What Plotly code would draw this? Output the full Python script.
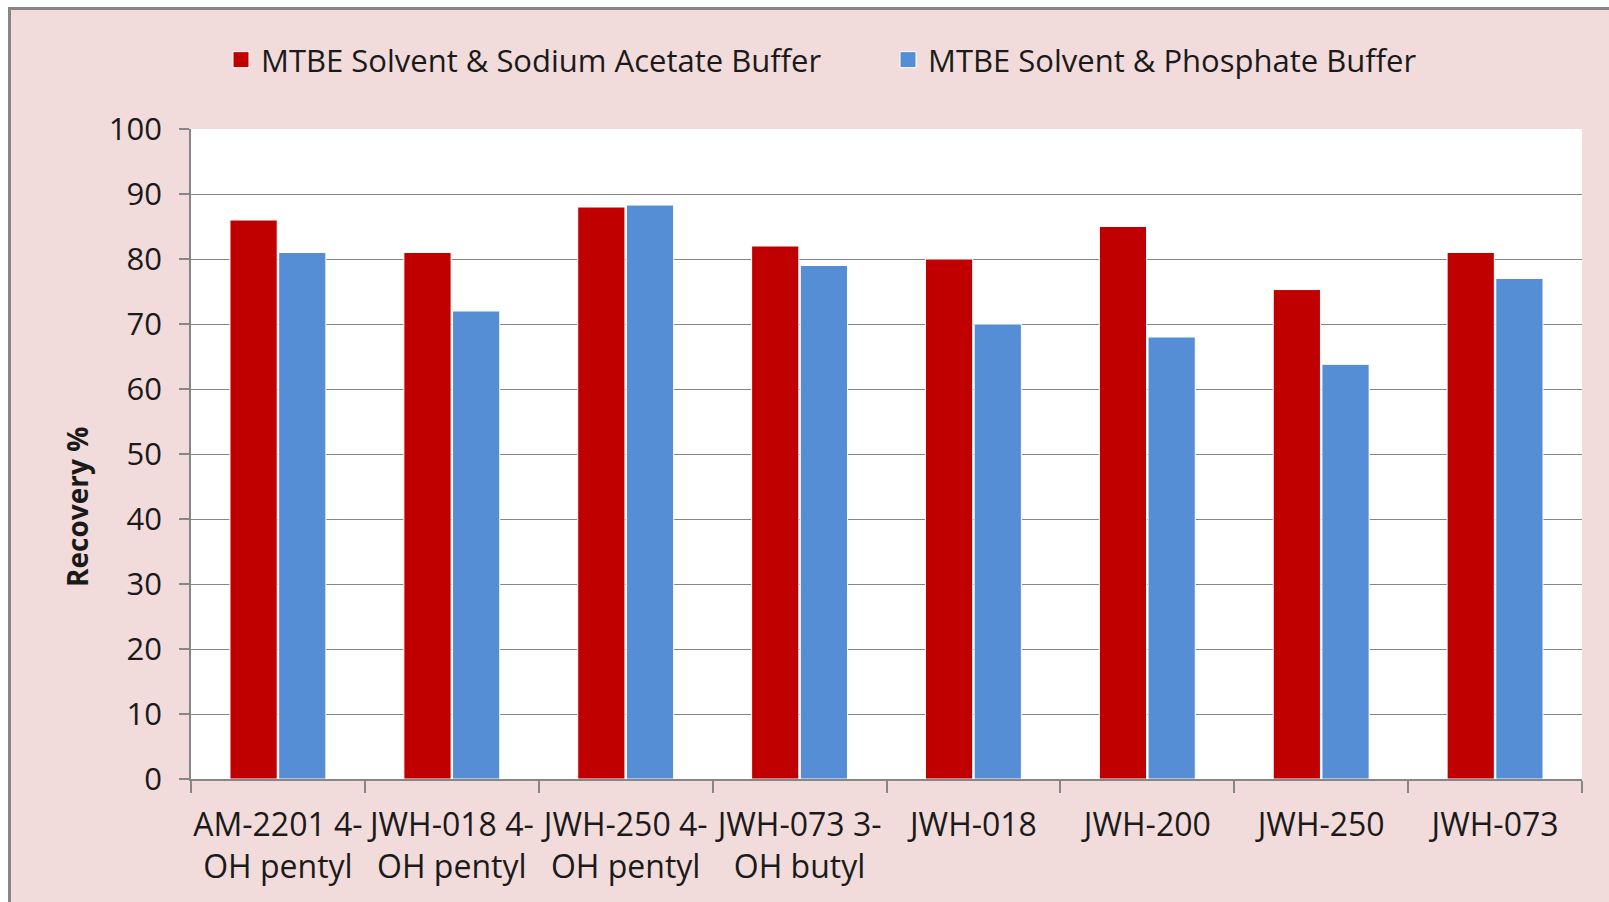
import plotly.graph_objects as go

# data
compounds = ["AM-2201 4-<br>OH pentyl", "JWH-018 4-<br>OH pentyl", "JWH-250 4-<br>OH pentyl",
             "JWH-073 3-<br>OH butyl", "JWH-018", "JWH-200", "JWH-250", "JWH-073"]
acetate = [86, 81, 88, 82, 80, 85, 75.3, 81]
phosphate = [81, 72, 88.3, 79, 70, 68, 63.8, 77]
series_names = ["MTBE Solvent & Sodium Acetate Buffer", "MTBE Solvent & Phosphate Buffer"]
series_colors = ["#C00000", "#558ED5"]

W, H = 1609, 902
L, R, T, B = 191, 1582, 129, 779


def px_x(p):
    return (p - L) / (R - L)


def px_y(p):
    return (B - p) / (B - T)


FONT = "Open Sans"
GRAY = "#868686"

fig = go.Figure()
for vals, name, col in zip([acetate, phosphate], series_names, series_colors):
    fig.add_bar(x=compounds, y=vals, name=name, showlegend=False,
                marker=dict(color=col, line=dict(color="white", width=1)))
# legend entries with bigger square keys (like Excel)
for name, col in zip(series_names, series_colors):
    fig.add_scatter(x=[None], y=[None], mode="markers", name=name,
                    marker=dict(symbol="square", size=16, color=col,
                                line=dict(color="white", width=1)))

# white page margin around the chart and its grey frame (left and top edges)
shapes = [
    dict(type="rect", xref="paper", yref="paper", x0=px_x(-20), x1=px_x(8),
         y0=px_y(H + 20), y1=px_y(-20), fillcolor="white", line_width=0, layer="below"),
    dict(type="rect", xref="paper", yref="paper", x0=px_x(-20), x1=px_x(W + 20),
         y0=px_y(7), y1=px_y(-20), fillcolor="white", line_width=0, layer="below"),
    dict(type="line", xref="paper", yref="paper", x0=px_x(9.5), x1=px_x(9.5),
         y0=px_y(7), y1=px_y(H + 20), line=dict(color=GRAY, width=3)),
    dict(type="line", xref="paper", yref="paper", x0=px_x(8), x1=px_x(W + 20),
         y0=px_y(8.5), y1=px_y(8.5), line=dict(color=GRAY, width=3)),
]

fig.update_layout(
    width=W, height=H,
    margin=dict(l=L, r=W - R, t=T, b=H - B),
    paper_bgcolor="#F2DCDB",
    plot_bgcolor="white",
    font=dict(family=FONT, size=31, color="#1a1a1a"),
    barmode="group",
    bargap=0.44,
    bargroupgap=0.03,
    shapes=shapes,
    showlegend=True,
    legend=dict(orientation="h", x=px_x(221), y=px_y(60), yanchor="middle", xanchor="left",
                bgcolor="rgba(0,0,0,0)", entrywidth=622, font=dict(size=31)),
    xaxis=dict(showline=True, linecolor=GRAY, linewidth=1.5, ticks="outside", ticklen=12,
               tickcolor=GRAY, tickwidth=1.5, tickson="boundaries", tickangle=0,
               ticklabelstandoff=17, tickfont=dict(size=32)),
    yaxis=dict(range=[0, 100], dtick=10, showgrid=True, gridcolor=GRAY, gridwidth=1.3,
               showline=True, linecolor=GRAY, linewidth=1.5, ticks="outside", ticklen=10,
               tickcolor=GRAY, tickwidth=1.5, ticklabelstandoff=11, zeroline=False),
    annotations=[dict(text="<b>Recovery %</b>", textangle=-90, xref="paper", yref="paper",
                      x=px_x(77), y=px_y(507), showarrow=False,
                      xanchor="center", yanchor="middle", font=dict(size=28))],
)

fig.write_html("out.html", config={"displayModeBar": False},
               post_script="document.body.style.margin='0';document.body.style.overflow='hidden';")
